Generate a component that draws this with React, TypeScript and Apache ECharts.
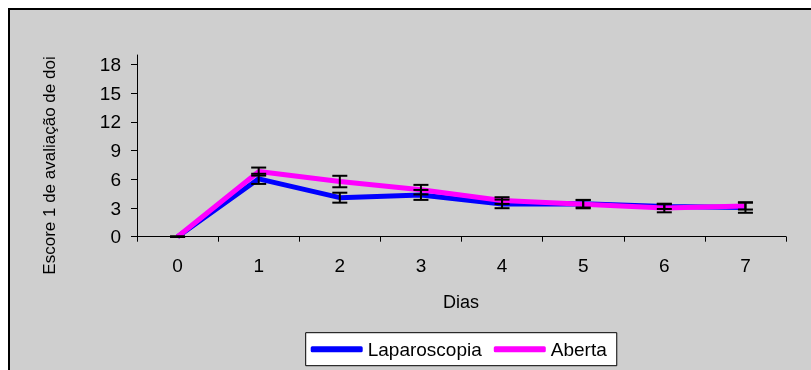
import React, { useEffect, useRef } from 'react';
import * as echarts from 'echarts';

const categories = ['0', '1', '2', '3', '4', '5', '6', '7'];
const laparoscopia = [0, 6.05, 4.08, 4.37, 3.43, 3.45, 3.15, 3.05];
const aberta = [0, 6.81, 5.77, 4.92, 3.78, 3.4, 3.0, 3.2];
const errLaparoscopia = [0, 0.53, 0.52, 0.52, 0.45, 0.4, 0.25, 0.55];
const errAberta = [0, 0.42, 0.6, 0.5, 0.35, 0.43, 0.45, 0.36];
const yTicks = [0, 3, 6, 9, 12, 15, 18];

export default function App() {
  const ref = useRef<HTMLDivElement>(null);
  useEffect(() => {
    const chart = echarts.init(ref.current as HTMLDivElement, null, { renderer: 'svg' });
    const font = '"Liberation Sans", Arial, sans-serif';
    const errData = (vals: number[], errs: number[]) =>
      vals.map((v, i) => [i, v - errs[i], v + errs[i]]);
    const renderErr = (_params: any, api: any) => {
      const i = api.value(0);
      const lo = api.coord([i, api.value(1)]);
      const hi = api.coord([i, api.value(2)]);
      const w = 7.5;
      const style = { stroke: '#000', lineWidth: 2 };
      return {
        type: 'group',
        children: [
          { type: 'line', shape: { x1: hi[0], y1: hi[1], x2: lo[0], y2: lo[1] }, style },
          { type: 'line', shape: { x1: hi[0] - w, y1: hi[1], x2: hi[0] + w, y2: hi[1] }, style },
          { type: 'line', shape: { x1: lo[0] - w, y1: lo[1], x2: lo[0] + w, y2: lo[1] }, style },
        ],
      };
    };
    chart.setOption({
      animation: false,
      backgroundColor: 'transparent',
      textStyle: { fontFamily: font },
      grid: { left: 137, right: 25, top: 55, bottom: 133.3, containLabel: false },
      xAxis: {
        type: 'category',
        data: categories,
        boundaryGap: true,
        axisLine: { lineStyle: { color: '#000', width: 1 } },
        axisTick: { show: true, length: 5, lineStyle: { color: '#000' } },
        axisLabel: { color: '#000', fontSize: 19, margin: 19, fontFamily: font },
        splitLine: { show: false },
      },
      yAxis: {
        type: 'value',
        min: 0,
        max: 19,
        axisLine: { show: true, lineStyle: { color: '#000', width: 1 } },
        axisTick: { show: true, length: 6, lineStyle: { color: '#000' }, customValues: yTicks },
        axisLabel: { color: '#000', fontSize: 19, margin: 16, fontFamily: font, customValues: yTicks },
        splitLine: { show: false },
      },
      legend: {
        data: ['Laparoscopia', 'Aberta'],
        left: 305.7,
        top: 332.7,
        orient: 'horizontal',
        icon: 'roundRect',
        itemWidth: 52,
        itemHeight: 6,
        itemGap: 12,
        padding: [7, 10, 7, 5],
        backgroundColor: '#fff',
        borderColor: '#000',
        borderWidth: 1,
        borderRadius: 0,
        textStyle: { color: '#000', fontSize: 19, fontFamily: font },
      },
      graphic: [
        {
          type: 'rect',
          silent: true,
          z: -10,
          shape: { x: 8, y: 8, width: 803, height: 362 },
          style: { fill: '#cfcfcf' },
        },
        {
          type: 'line',
          silent: true,
          shape: { x1: 8, y1: 9, x2: 811, y2: 9 },
          style: { stroke: '#000', lineWidth: 2 },
        },
        {
          type: 'line',
          silent: true,
          shape: { x1: 9, y1: 8, x2: 9, y2: 370 },
          style: { stroke: '#000', lineWidth: 2 },
        },
        {
          type: 'text',
          x: 49,
          y: 165.5,
          rotation: Math.PI / 2,
          style: {
            text: 'Escore 1 de avaliação de doi',
            fill: '#000',
            fontSize: 17,
            fontFamily: font,
            align: 'center',
            verticalAlign: 'middle',
          },
        },
        {
          type: 'text',
          x: 461,
          y: 302,
          style: {
            text: 'Dias',
            fill: '#000',
            fontSize: 18,
            fontFamily: font,
            align: 'center',
            verticalAlign: 'middle',
          },
        },
      ],
      series: [
        {
          name: 'Laparoscopia',
          type: 'line',
          data: laparoscopia,
          symbol: 'none',
          color: '#0000ff',
          lineStyle: { color: '#0000ff', width: 5 },
          z: 2,
        },
        {
          name: 'Aberta',
          type: 'line',
          data: aberta,
          symbol: 'none',
          color: '#ff00ff',
          lineStyle: { color: '#ff00ff', width: 5 },
          z: 3,
        },
        {
          name: 'errLap',
          type: 'custom',
          data: errData(laparoscopia, errLaparoscopia),
          renderItem: renderErr,
          z: 5,
        },
        {
          name: 'errAb',
          type: 'custom',
          data: errData(aberta, errAberta),
          renderItem: renderErr,
          z: 5,
        },
      ],
    });
    return () => chart.dispose();
  }, []);
  return <div ref={ref} style={{ position: 'fixed', left: 0, top: 0, width: 811, height: 370 }} />;
}
